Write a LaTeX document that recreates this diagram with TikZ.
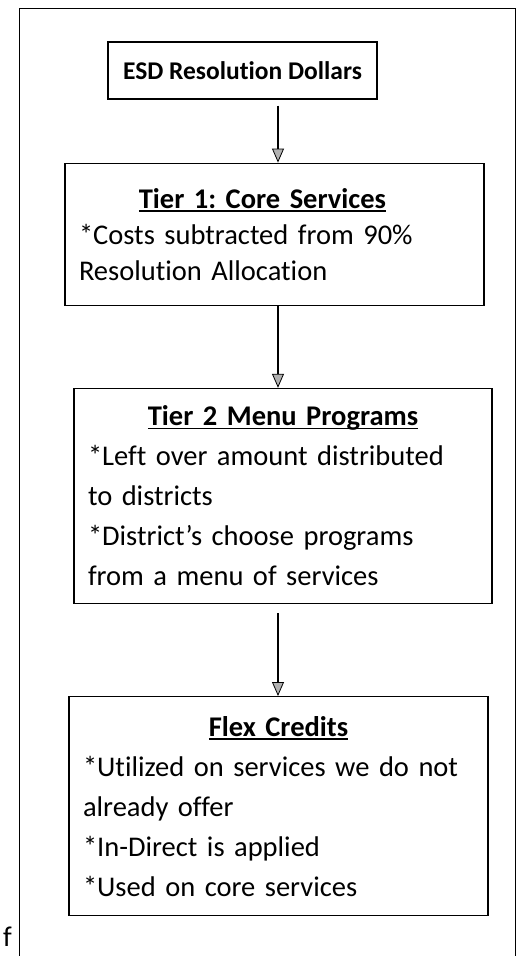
\documentclass[tikz,border=0pt]{standalone}
\usepackage{fontspec}
\setmainfont{Carlito}[Ligatures=NoCommon]
\usetikzlibrary{arrows.meta,positioning}

\newcommand{\headline}[1]{{\bfseries\setbox0\hbox{#1}\rlap{\rule[-3.5pt]{\wd0}{1.3pt}}\box0}}

\begin{document}
\frenchspacing
\begin{tikzpicture}[x=1pt,y=-1pt,
  font=\fontsize{28.5pt}{40pt}\selectfont,
  flowbox/.style={draw,line width=1.2pt,inner sep=0pt,align=center},
  tierbox/.style={draw,line width=1.2pt,inner xsep=14pt,inner ysep=0pt,align=left},
  flow/.style={line width=1.8pt,-{Triangle[width=12pt,length=14pt,fill=gray!60,line width=0.8pt]}}]
  \useasboundingbox (0,0) rectangle (520,956);
  \draw[line width=1pt] (19,956) |- (515,8) -- (515,956);

  \node[flowbox,minimum width=269pt,minimum height=57pt,font=\fontsize{25.5pt}{30pt}\selectfont\bfseries] (esd) at (242.5,70.5) {ESD Resolution Dollars};
  \node[tierbox,text width=391pt,minimum height=142pt,font=\fontsize{28.5pt}{36pt}\selectfont] (tier1) [below=63pt of esd,xshift=32pt]
    {{\centering\hspace*{-24pt}\headline{Tier 1: Core Services}\par}\raggedright
     *Costs subtracted from 90\%\\Resolution Allocation};
  \node[tierbox,text width=390pt,minimum height=215pt] (tier2) [below=82pt of tier1,xshift=8.5pt]
    {{\centering\headline{Tier 2 Menu Programs}\par}\raggedright
     *Left over amount distributed\\to districts\\{}*District’s choose programs\\from a menu of services};
  \node[tierbox,text width=391pt,minimum height=219pt] (flex) [below=92pt of tier2,xshift=-4.5pt]
    {{\centering\headline{Flex Credits}\par}\raggedright
     *Utilized on services we do not\\already offer\\{}*In-Direct is applied\\{}*Used on core services};

  \coordinate (axis) at (278,0);
  \draw[flow,shorten <=6pt] (esd.south -| axis) -- (tier1.north -| axis);
  \draw[flow] (tier1.south -| axis) -- (tier2.north -| axis);
  \draw[flow,shorten <=9pt] (tier2.south -| axis) -- (flex.north -| axis);

  \node[anchor=base west,inner sep=0pt] (cut) at (3,946) {f};
\end{tikzpicture}
\end{document}
